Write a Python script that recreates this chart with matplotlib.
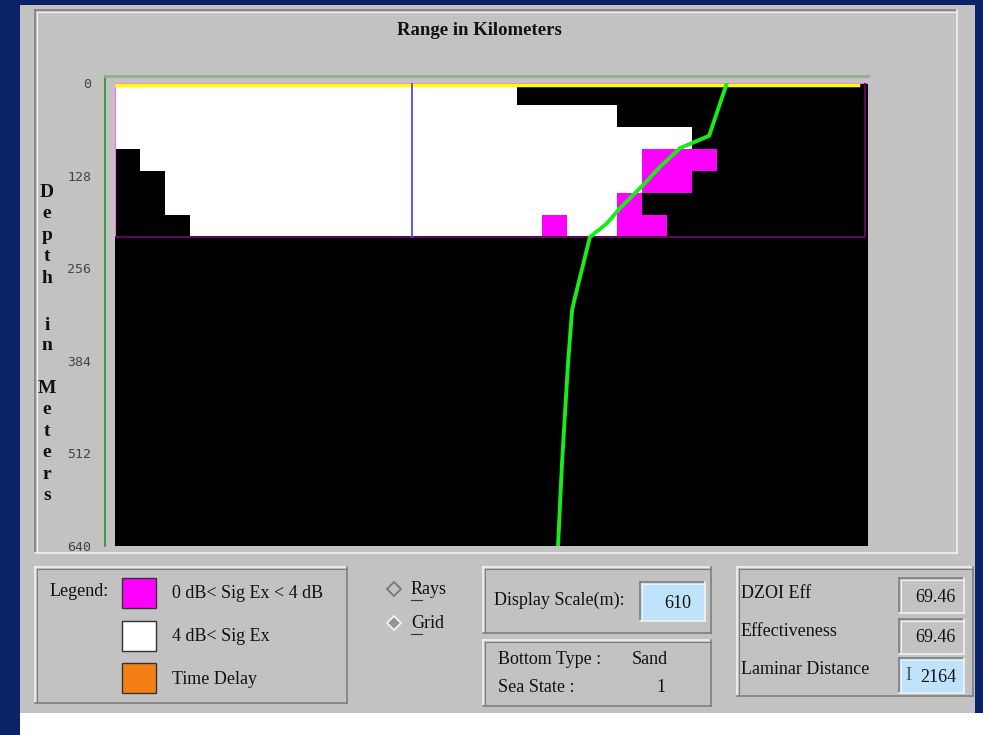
import matplotlib.pyplot as plt
from matplotlib.colors import ListedColormap
from matplotlib.patches import Rectangle, Polygon
import numpy as np

W, H = 983, 735

# signal excess grid, rows top->bottom: 0 = none, 1 = 4 dB< Sig Ex, 2 = 0 dB< Sig Ex < 4 dB
grid_rows = [
    "111111111111111100000000000000",
    "111111111111111111110000000000",
    "111111111111111111111110000000",
    "011111111111111111111222000000",
    "001111111111111111111220000000",
    "001111111111111111112000000000",
    "000111111111111112112200000000",
]
grid_bottom_depth = 213

# green profile line (range cell, depth in m)
profile_range = [24.38, 23.67, 22.51, 21.71, 21.04, 20.12, 19.60, 18.92,
                 18.33, 18.21, 18.05, 17.93, 17.81, 17.65]
profile_depth = [0, 73, 90, 116, 141, 173, 194, 213,
                 296, 314, 387, 456, 525, 640]

marker_range = 11.83
depth_ticks = [0, 128, 256, 384, 512, 640]

legend_labels = ['0 dB< Sig Ex < 4 dB', '4 dB< Sig Ex', 'Time Delay']
legend_colors = ['#ff00ff', '#ffffff', '#f57f17']

display_scale = '610'
bottom_type = 'Sand'
sea_state = '1'
result_labels = ['DZOI Eff', 'Effectiveness', 'Laminar Distance']
result_values = ['69.46', '69.46', '2164']

SERIF = 'Liberation Serif'
GRAY = '#c2c2c2'


def bevel(ax, x0, y0, x1, y1, sunken=True, face=None):
    if face is not None:
        ax.add_patch(Rectangle((x0, y0), x1 - x0, y1 - y0, fc=face, ec='none'))
    dark, light = ('#7e7e7e', '#f2f2f2') if sunken else ('#f2f2f2', '#7e7e7e')
    ax.plot([x0, x1], [y0, y0], color=dark, lw=1.2)
    ax.plot([x0, x0], [y0, y1], color=dark, lw=1.2)
    ax.plot([x0, x1], [y1, y1], color=light, lw=1.2)
    ax.plot([x1, x1], [y0, y1], color=light, lw=1.2)
    ax.plot([x0 + 1.5, x1 - 1.5], [y0 + 1.5, y0 + 1.5], color=light, lw=0.8)
    ax.plot([x0 + 1.5, x0 + 1.5], [y0 + 1.5, y1 - 1.5], color=light, lw=0.8)


fig = plt.figure(figsize=(W / 100, H / 100), dpi=100)
fig.patch.set_facecolor('#0b2268')

bg = fig.add_axes([0, 0, 1, 1], zorder=0)
bg.set_xlim(0, W)
bg.set_ylim(H, 0)
bg.axis('off')

# window background
bg.add_patch(Rectangle((20, 5), 955, 708, fc=GRAY, ec='none'))
bg.add_patch(Rectangle((20, 713), 963, 22, fc='white', ec='none'))
bevel(bg, 35, 10, 957, 553, sunken=True)

bg.text(479, 30, 'Range in Kilometers', family=SERIF, weight='bold',
        fontsize=13.5, ha='center', va='center', color='#111111')

# axis frame lines
bg.plot([105, 105], [76, 546], color='#2e9a2e', lw=1.3)
bg.plot([105, 868], [76, 76], color='#8fb08f', lw=2)

for i, ch in enumerate('Depth'):
    bg.text(47, 192 + i * 21.5, ch, family=SERIF, weight='bold', fontsize=14,
            ha='center', va='center', color='#111111')
for i, ch in enumerate('in'):
    bg.text(47, 325 + i * 20, ch, family=SERIF, weight='bold', fontsize=14,
            ha='center', va='center', color='#111111')
for i, ch in enumerate('Meters'):
    bg.text(47, 388 + i * 21.5, ch, family=SERIF, weight='bold', fontsize=14,
            ha='center', va='center', color='#111111')

# main chart
ax = fig.add_axes([115 / W, 1 - 546 / H, 753 / W, 463 / H], zorder=1)
ax.set_facecolor('black')
grid = np.array([[int(c) for c in row] for row in grid_rows])
n_rows, n_cols = grid.shape
range_edges = np.arange(n_cols + 1)
depth_edges = np.linspace(0, grid_bottom_depth, n_rows + 1)
cmap = ListedColormap(['black', 'white', '#ff00ff'])
ax.pcolormesh(range_edges, depth_edges, grid, cmap=cmap, vmin=0, vmax=2)
ax.plot([0, 0, n_cols], [grid_bottom_depth, 0.6, 0.6], color='#ff66ff', lw=1.5)
ax.plot([0, n_cols - 0.1, n_cols - 0.1], [grid_bottom_depth, grid_bottom_depth, 0],
        color='#5a0a5a', lw=1.5)
ax.plot([0, 29.6], [3, 3], color='#ffff00', lw=2.5)
ax.plot([marker_range, marker_range], [0, grid_bottom_depth], color='#4a4aff', lw=1.3)
ax.plot(profile_range, profile_depth, color='#16ee16', lw=2.8)

ax.set_xlim(0, n_cols)
ax.set_ylim(640, 0)
ax.set_xticks([])
ax.set_yticks(depth_ticks)
ax.set_yticklabels([str(d) for d in depth_ticks], family='DejaVu Sans Mono',
                   fontsize=9.5, color='#444444')
ax.tick_params(axis='y', length=0, pad=17)
for s in ax.spines.values():
    s.set_visible(False)

# legend panel
bevel(bg, 35, 567, 347, 703, sunken=False)
bg.text(50, 592, 'Legend:', family=SERIF, fontsize=13, va='center', color='#111111')
for i, (lab, col) in enumerate(zip(legend_labels, legend_colors)):
    y = 578 + i * 42.5
    bg.add_patch(Rectangle((122, y), 34, 30, fc=col, ec='#333333', lw=1))
    bg.text(172, y + 16, lab, family=SERIF, fontsize=13, va='center', color='#111111')

# radio buttons
for i, (lab, filled) in enumerate([('Rays', False), ('Grid', True)]):
    cy = 589 + i * 34
    dia = Polygon([[387, cy], [394, cy - 7], [401, cy], [394, cy + 7]], closed=True,
                  fc='#959595' if filled else GRAY, ec='#f4f4f4' if filled else '#777777',
                  lw=1.3)
    bg.add_patch(dia)
    bg.text(411, cy, lab, family=SERIF, fontsize=13, va='center', color='#111111')
    bg.plot([411, 422], [cy + 11, cy + 11], color='#333333', lw=0.8)

# display scale panel
bevel(bg, 483, 567, 711, 633, sunken=False)
bg.text(494, 600, 'Display Scale(m):', family=SERIF, fontsize=13, va='center',
        color='#111111')
bevel(bg, 640, 582, 705, 621, sunken=True, face='#bfe3fa')
bg.text(691, 603, display_scale, family=SERIF, fontsize=13, ha='right', va='center',
        color='#111111')

bevel(bg, 483, 640, 711, 706, sunken=False)
bg.text(498, 660, 'Bottom Type :', family=SERIF, fontsize=13, va='center', color='#111111')
bg.text(632, 660, bottom_type, family=SERIF, fontsize=13, va='center', color='#111111')
bg.text(498, 688, 'Sea State :', family=SERIF, fontsize=13, va='center', color='#111111')
bg.text(666, 688, sea_state, family=SERIF, fontsize=13, ha='right', va='center',
        color='#111111')

# results panel
bevel(bg, 737, 567, 973, 696, sunken=False)
box_tops = [578, 619, 658]
for i, (lab, val) in enumerate(zip(result_labels, result_values)):
    y0 = box_tops[i]
    bg.text(741, 594 + i * 38, lab, family=SERIF, fontsize=13, va='center', color='#111111')
    face = '#bfe3fa' if i == 2 else None
    bevel(bg, 899, y0, 964, y0 + 35, sunken=True, face=face)
    bg.text(956, y0 + 19, val, family=SERIF, fontsize=13, ha='right', va='center',
            color='#111111')
bg.text(905, 675, 'I', family=SERIF, fontsize=13, va='center', color='#555555')

fig.savefig('out.png', dpi=100, facecolor=fig.get_facecolor())
